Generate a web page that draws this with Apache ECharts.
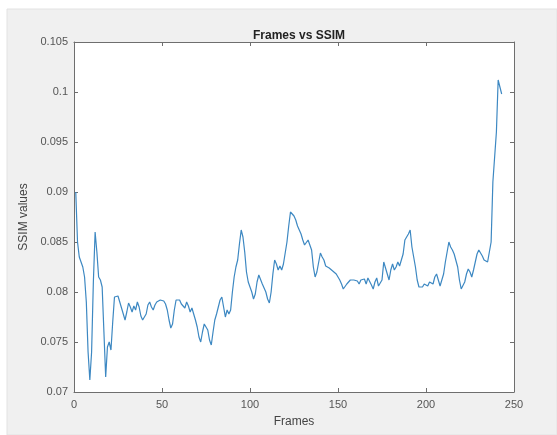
<!DOCTYPE html>
<html>
<head>
<meta charset="utf-8">
<script src="https://cdn.jsdelivr.net/npm/echarts@6/dist/echarts.min.js"></script>
<style>
  html, body { margin: 0; padding: 0; background: #fff; }
  #chart { width: 557px; height: 435px; }
</style>
</head>
<body>
<div id="chart"></div>
<script>
// frame numbers and SSIM values
var frames = [
  1, 2, 3, 5, 6, 7, 8, 9, 10, 11, 12, 13, 14, 15, 16, 17, 18, 19, 20,
  21, 22, 23, 24, 25, 26, 28, 29, 30, 31, 32, 33, 34, 35, 36, 37, 38, 39, 40,
  41, 42, 43, 44, 45, 46, 47, 48, 49, 50, 51, 52, 53, 54, 55, 56, 57, 58, 59, 60,
  61, 62, 63, 64, 65, 66, 67, 68, 69, 70, 71, 72, 73, 74, 75, 76, 77, 78, 79, 80,
  81, 82, 83, 84, 85, 86, 87, 88, 89, 90, 91, 92, 93, 94, 95, 96, 97, 98, 99, 100,
  101, 102, 103, 104, 105, 106, 107, 108, 109, 110, 111, 112, 113, 114, 115, 116, 117, 118, 119, 120,
  121, 122, 123, 124, 125, 126, 127, 128, 129, 130, 131, 132, 133, 134, 135, 136, 137, 138, 139, 140,
  141, 142, 143, 144, 145, 146, 147, 148, 149, 150, 151, 152, 153, 154, 155, 156, 157, 158, 159, 160,
  161, 162, 163, 164, 165, 166, 167, 168, 169, 170, 171, 172, 173, 174, 175, 176, 177, 178, 179, 180,
  181, 182, 183, 184, 185, 186, 187, 188, 189, 190, 191, 192, 193, 194, 195, 196, 197, 198, 199, 200,
  201, 202, 203, 204, 205, 206, 207, 208, 209, 210, 211, 212, 213, 214, 215, 216, 217, 218, 219, 220,
  221, 222, 223, 224, 225, 226, 227, 228, 229, 230, 231, 232, 233, 234, 235, 236, 237, 238, 239, 240,
  241, 242, 243
]
var ssim = [
  0.0900, 0.0850, 0.0835, 0.0825, 0.0815, 0.0790, 0.0740, 0.0712, 0.0740, 0.0810, 0.0860, 0.0840, 0.0815, 0.0812, 0.0805, 0.0760, 0.0715, 0.0745, 0.0750,
  0.0742, 0.0770, 0.0795, 0.0797, 0.0796, 0.0790, 0.0778, 0.0772, 0.0780, 0.0789, 0.0785, 0.0780, 0.0786, 0.0782, 0.0790, 0.0785, 0.0776, 0.0772, 0.0772,
  0.0778, 0.0787, 0.0790, 0.0785, 0.0782, 0.0787, 0.0790, 0.0789, 0.0792, 0.0790, 0.0791, 0.0788, 0.0782, 0.0772, 0.0764, 0.0768, 0.0782, 0.0792, 0.0790, 0.0792,
  0.0788, 0.0790, 0.0784, 0.0790, 0.0786, 0.0780, 0.0784, 0.0778, 0.0772, 0.0765, 0.0755, 0.0750, 0.0760, 0.0768, 0.0770, 0.0762, 0.0752, 0.0747, 0.0760, 0.0772,
  0.0778, 0.0785, 0.0792, 0.0795, 0.0785, 0.0775, 0.0782, 0.0778, 0.0782, 0.0800, 0.0815, 0.0825, 0.0832, 0.0848, 0.0862, 0.0855, 0.0840, 0.0820, 0.0810, 0.0805,
  0.0800, 0.0793, 0.0798, 0.0810, 0.0817, 0.0815, 0.0808, 0.0808, 0.0800, 0.0793, 0.0789, 0.0800, 0.0818, 0.0832, 0.0828, 0.0822, 0.0826, 0.0822, 0.0828, 0.0826,
  0.0850, 0.0866, 0.0880, 0.0881, 0.0876, 0.0872, 0.0866, 0.0862, 0.0858, 0.0852, 0.0847, 0.0848, 0.0852, 0.0850, 0.0842, 0.0825, 0.0815, 0.0820, 0.0818, 0.0839,
  0.0835, 0.0832, 0.0826, 0.0828, 0.0824, 0.0822, 0.0821, 0.0822, 0.0818, 0.0815, 0.0812, 0.0808, 0.0803, 0.0805, 0.0808, 0.0806, 0.0812, 0.0813, 0.0812, 0.0810,
  0.0811, 0.0808, 0.0812, 0.0810, 0.0813, 0.0808, 0.0814, 0.0812, 0.0807, 0.0803, 0.0810, 0.0814, 0.0806, 0.0804, 0.0812, 0.0830, 0.0828, 0.0818, 0.0812, 0.0822,
  0.0828, 0.0822, 0.0825, 0.0830, 0.0826, 0.0832, 0.0838, 0.0852, 0.0850, 0.0858, 0.0862, 0.0845, 0.0835, 0.0825, 0.0812, 0.0805, 0.0803, 0.0805, 0.0808, 0.0807,
  0.0806, 0.0810, 0.0812, 0.0808, 0.0815, 0.0818, 0.0812, 0.0806, 0.0807, 0.0818, 0.0830, 0.0840, 0.0850, 0.0845, 0.0842, 0.0838, 0.0836, 0.0825, 0.0812, 0.0803,
  0.0802, 0.0810, 0.0818, 0.0823, 0.0820, 0.0815, 0.0822, 0.0830, 0.0838, 0.0842, 0.0840, 0.0836, 0.0832, 0.0832, 0.0830, 0.0830, 0.0850, 0.0910, 0.0912, 0.0960,
  0.1012, 0.1005, 0.0998
]
var xTicks = [0, 50, 100, 150, 200, 250]
var yTicks = [0.07, 0.075, 0.08, 0.085, 0.09, 0.095, 0.1, 0.105]

var chart = echarts.init(document.getElementById('chart'))

var axisColor = '#6e6e6e'
var labelColor = '#555'
var font = 'Liberation Sans, Arial, sans-serif'

var points = frames.map(function (f, i) { return [f, ssim[i]] })

function baseX(pos, showLabel) {
  return {
    type: 'value',
    position: pos,
    min: xTicks[0],
    max: xTicks[xTicks.length - 1],
    interval: 50,
    axisLine: { show: true, lineStyle: { color: axisColor, width: 1 } },
    axisTick: { show: true, inside: true, length: 4, lineStyle: { color: axisColor } },
    axisLabel: { show: showLabel, color: labelColor, fontSize: 11, fontFamily: font, margin: 7 },
    splitLine: { show: false }
  }
}

function baseY(pos, showLabel) {
  return {
    type: 'value',
    position: pos,
    min: yTicks[0],
    max: yTicks[yTicks.length - 1],
    interval: 0.005,
    axisLine: { show: true, onZero: false, lineStyle: { color: axisColor, width: 1 } },
    axisTick: { show: true, inside: true, length: 4, lineStyle: { color: axisColor } },
    axisLabel: {
      show: showLabel, color: labelColor, fontSize: 11, fontFamily: font, margin: 6,
      formatter: function (v) { return String(parseFloat(v.toFixed(3))) }
    },
    splitLine: { show: false }
  }
}

var xBottom = baseX('bottom', true)
xBottom.name = 'Frames'
xBottom.nameLocation = 'middle'
xBottom.nameGap = 24
xBottom.nameTextStyle = { color: '#444', fontSize: 12, fontFamily: font }

var yLeft = baseY('left', true)
yLeft.name = 'SSIM values'
yLeft.nameLocation = 'middle'
yLeft.nameGap = 44
yLeft.nameTextStyle = { color: '#444', fontSize: 12, fontFamily: font }

chart.setOption({
  backgroundColor: '#fff',
  animation: false,
  graphic: [{
    type: 'rect',
    z: -10,
    shape: { x: 7, y: 9, width: 550, height: 426 },
    style: { fill: '#f0f0f0', stroke: '#e2e2e2' }
  }, {
    type: 'rect',
    z: -9,
    shape: { x: 74, y: 42, width: 440, height: 350 },
    style: { fill: '#ffffff' }
  }],
  title: {
    text: 'Frames vs SSIM',
    left: 294,
    top: 25,
    textAlign: 'center',
    textStyle: { color: '#222', fontSize: 12, fontWeight: 'bold', fontFamily: font }
  },
  grid: { left: 74, right: 43, top: 42, bottom: 43 },
  xAxis: [xBottom, baseX('top', false)],
  yAxis: [yLeft, baseY('right', false)],
  series: [{
    type: 'line',
    data: points,
    showSymbol: false,
    smooth: false,
    lineStyle: { color: '#3d88c2', width: 1.2 }
  }]
})
</script>
</body>
</html>
